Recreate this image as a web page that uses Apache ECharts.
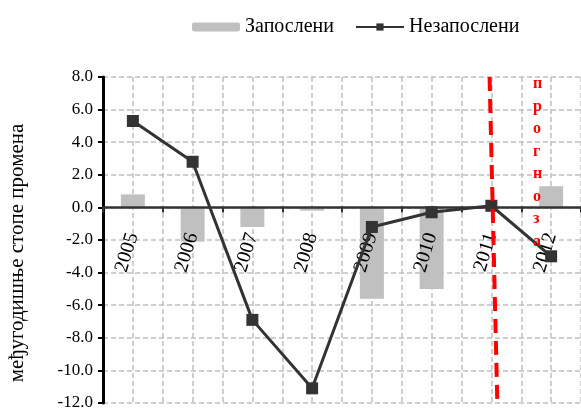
<!DOCTYPE html>
<html><head><meta charset="utf-8">
<script src="https://cdn.jsdelivr.net/npm/echarts@6/dist/echarts.min.js"></script>
<style>html,body{margin:0;padding:0;background:#fff}#c{width:581px;height:410px}</style>
</head><body><div id="c"></div>
<script>
var categories = ['2005','2006','2007','2008','2009','2010','2011','2012'];
var employed = [0.8, -2.1, -1.2, -0.2, -5.6, -5.0, 0.0, 1.3];
var unemployed = [5.3, 2.8, -6.9, -11.1, -1.2, -0.3, 0.1, -3.0];
var seriesNames = ['Запослени', 'Незапослени'];
var yAxisName = 'међугодишње стопе промена';
var forecastText = 'прогноза';
var yMin = -12, yMax = 8, yStep = 2;
// forecast divider: [category position, value] at top and bottom of the plot
var forecastLine = [[5.97, 8.0], [6.1, -12.0]];

var FONT = 'Liberation Serif';
var GRID_TOP = 77, GRID_BOTTOM = 7, H = 410;
var plotH = H - GRID_TOP - GRID_BOTTOM;
// move the category axis from the bottom edge up to the zero line
var zeroOffset = -plotH * (0 - yMin) / (yMax - yMin);

var chart = echarts.init(document.getElementById('c'));
chart.setOption({
  animation: false,
  textStyle: {fontFamily: FONT},
  legend: {
    data: seriesNames,
    left: 187, top: 12,
    itemWidth: 48, itemHeight: 9, itemGap: 21,
    textStyle: {fontFamily: FONT, fontSize: 20, color: '#000'}
  },
  grid: {left: 103, right: 0, top: GRID_TOP, bottom: GRID_BOTTOM, containLabel: false, outerBoundsMode: 'none'},
  xAxis: [{
    type: 'category', data: categories, position: 'bottom', offset: zeroOffset,
    axisLine: {onZero: false, lineStyle: {color: '#333', width: 2.5}},
    axisTick: {show: true, length: 5, lineStyle: {color: '#333', width: 2}},
    axisLabel: {rotate: 73, margin: 26, fontFamily: FONT, fontSize: 20, color: '#000'},
    splitLine: {show: false}, z: 3
  }, {
    type: 'value', min: -0.5, max: 7.5, interval: 0.5, show: true, position: 'top',
    axisLine: {show: false, onZero: false}, axisTick: {show: false}, axisLabel: {show: false},
    splitLine: {show: true, lineStyle: {color: '#c0c0c0', type: [5, 3], width: 1.5}}
  }],
  yAxis: {
    type: 'value', min: yMin, max: yMax, interval: yStep,
    name: yAxisName, nameLocation: 'middle', nameGap: 75,
    nameTextStyle: {fontFamily: FONT, fontSize: 21, color: '#000', padding: [0, 26, 0, 0]},
    axisLine: {show: true, onZero: false, lineStyle: {color: '#000', width: 3}},
    axisTick: {show: true, inside: false, length: 5, lineStyle: {color: '#000', width: 2}},
    axisLabel: {fontFamily: FONT, fontSize: 17, color: '#000', margin: 10,
      formatter: function (v) { return v.toFixed(1); }},
    splitLine: {show: true, lineStyle: {color: '#c0c0c0', type: [5, 3], width: 1.5}}
  },
  graphic: [{
    type: 'text', left: 533, top: 73, silent: true, z: 100,
    style: {text: forecastText.split('').join('\n'), fill: '#ff0000',
      font: 'bold 16px "Liberation Serif"', lineHeight: 22.5, align: 'center'}
  }],
  series: [{
    name: seriesNames[0], type: 'bar', data: employed, barWidth: 24,
    itemStyle: {color: '#c0c0c0'}, z: 2
  }, {
    name: seriesNames[1], type: 'line', data: unemployed,
    symbol: 'rect', symbolSize: 12,
    lineStyle: {color: '#333', width: 3},
    itemStyle: {color: '#333'}, z: 4
  }, {
    name: 'forecast', type: 'line', xAxisIndex: 1, data: forecastLine,
    symbol: 'none', silent: true,
    lineStyle: {color: '#ff0000', width: 4, type: [14, 8]}, z: 5
  }]
});
</script></body></html>
